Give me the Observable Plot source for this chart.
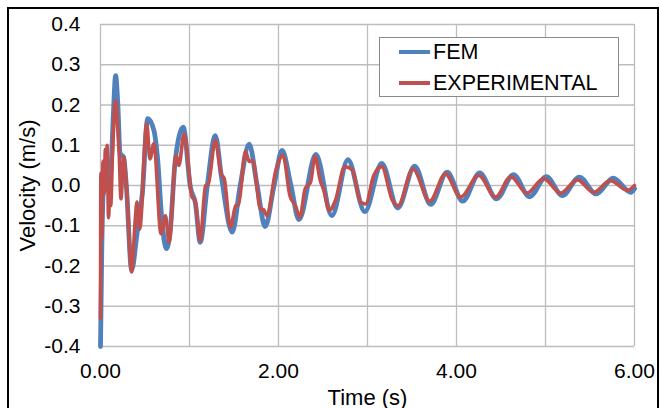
<!DOCTYPE html>
<html>
<head>
<meta charset="utf-8">
<script src="https://cdn.jsdelivr.net/npm/d3@7"></script>
<script src="https://cdn.jsdelivr.net/npm/@observablehq/plot@0.6"></script>
<style>
  html, body { margin:0; padding:0; background:#fff; overflow:hidden; }
  #wrap { position:relative; width:660px; height:408px; font-family:"Liberation Sans", Arial, sans-serif; }
  #frame { position:absolute; left:7px; top:7px; width:648px; height:420px; border:2px solid #000; box-sizing:content-box; pointer-events:none; }
  #legend { position:absolute; left:379px; top:37px; width:238px; height:58px; border:1px solid #8a8a8a; background:#fff; }
  .item { position:absolute; left:19px; height:24px; display:flex; align-items:center; font-size:21.5px; color:#000; }
  .sw { width:31px; height:4px; margin-right:3px; }
</style>
</head>
<body>
<div id="wrap">
  <div id="chart"></div>
  <div id="frame"></div>
  <div id="legend">
    <div class="item" style="top:2px"><span class="sw" style="background:#4F81BD"></span>FEM</div>
    <div class="item" style="top:33px"><span class="sw" style="background:#C0504D"></span>EXPERIMENTAL</div>
  </div>
</div>
<script>
// FEM series (time s, velocity m/s)
const femT = [0.000,0.015,0.030,0.060,0.090,0.120,0.145,0.170,0.195,0.220,0.260,0.290,0.350,0.410,0.470,0.530,0.600,0.640,0.690,0.740,0.780,0.840,0.930,1.010,1.067,1.120,1.200,1.290,1.360,1.480,1.570,1.670,1.760,1.850,1.950,2.040,2.140,2.230,2.420,2.600,2.780,2.970,3.160,3.340,3.530,3.710,3.895,4.070,4.260,4.450,4.640,4.820,5.010,5.190,5.380,5.570,5.760,5.960,6.000];
const femV = [-0.400,-0.150,-0.020,0.030,0.000,0.050,0.180,0.273,0.200,0.080,0.070,0.000,-0.210,-0.120,-0.020,0.166,0.137,0.070,-0.087,-0.157,-0.120,0.062,0.145,-0.004,-0.045,-0.141,0.000,0.124,0.020,-0.116,0.000,0.103,0.000,-0.102,0.000,0.087,0.000,-0.085,0.077,-0.075,0.064,-0.065,0.055,-0.056,0.048,-0.047,0.033,-0.039,0.031,-0.033,0.027,-0.028,0.022,-0.025,0.021,-0.021,0.018,-0.017,-0.008];
// EXPERIMENTAL series
const expT = [0.000,0.004,0.015,0.028,0.040,0.055,0.065,0.075,0.090,0.105,0.115,0.135,0.170,0.195,0.210,0.230,0.260,0.290,0.350,0.390,0.410,0.440,0.520,0.555,0.600,0.680,0.730,0.770,0.850,0.880,0.940,1.030,1.060,1.120,1.180,1.210,1.290,1.356,1.390,1.460,1.520,1.550,1.630,1.670,1.710,1.800,1.830,1.870,1.970,2.050,2.130,2.190,2.240,2.300,2.360,2.410,2.470,2.510,2.570,2.640,2.745,2.830,2.920,2.980,3.070,3.160,3.280,3.345,3.510,3.700,3.876,4.045,4.250,4.440,4.610,4.790,4.980,5.170,5.360,5.540,5.730,5.920,6.000];
const expV = [-0.330,0.030,-0.130,0.060,-0.020,0.090,-0.010,0.100,-0.080,-0.020,-0.050,0.080,0.211,0.140,0.079,-0.033,0.070,0.005,-0.215,-0.087,-0.041,-0.108,0.153,0.066,0.104,-0.120,-0.075,-0.141,0.075,0.050,0.128,-0.029,-0.035,-0.137,0.000,0.003,0.112,0.029,0.017,-0.104,-0.050,-0.048,0.085,0.060,0.062,-0.060,-0.060,-0.075,0.037,0.075,-0.027,-0.050,-0.079,-0.008,0.008,0.072,0.012,-0.012,-0.062,-0.037,0.047,0.039,-0.041,-0.046,0.025,0.047,-0.037,-0.050,0.041,-0.039,0.029,-0.029,0.025,-0.029,0.022,-0.019,0.017,-0.019,0.014,-0.017,0.012,-0.012,0.000];

const yTicks = [-0.4,-0.3,-0.2,-0.1,0,0.1,0.2,0.3,0.4];
const yTickLabels = ["-0.4","-0.3","-0.2","-0.1","0.0","0.1","0.2","0.3","0.4"];
const xGrid = [0,1,2,3,4,5,6];
const xTicks = [0,2,4,6];
const xTickLabels = ["0.00","2.00","4.00","6.00"];

const fem = femT.map((t,i)=>({t, v: femV[i]}));
const exp = expT.map((t,i)=>({t, v: expV[i]}));

const chart = Plot.plot({
  width: 660, height: 408,
  marginLeft: 100, marginRight: 26, marginTop: 24, marginBottom: 62,
  x: {domain: [0, 6]},
  y: {domain: [-0.4, 0.4]},
  style: {fontFamily: "'Liberation Sans', Arial, sans-serif", fontSize: "21px", background: "transparent", color: "#000"},
  marks: [
    Plot.ruleY(yTicks, {stroke: "#bdbdbd", strokeWidth: 1.3, strokeOpacity: 1}),
    Plot.ruleX(xGrid, {stroke: "#bdbdbd", strokeWidth: 1.3, strokeOpacity: 1}),
    Plot.line(fem, {x: "t", y: "v", stroke: "#4F81BD", strokeWidth: 4.8, curve: "monotone-x"}),
    Plot.line(exp, {x: "t", y: "v", stroke: "#C0504D", strokeWidth: 3.6, curve: "monotone-x"}),
    Plot.axisY(yTicks, {tickSize: 0, tickPadding: 20, tickFormat: d => yTickLabels[yTicks.indexOf(d)], label: null, fontSize: 21}),
    Plot.axisY([], {label: "Velocity (m/s)", labelAnchor: "center", labelOffset: 81, labelArrow: "none", fontSize: 22}),
    Plot.axisX(xTicks, {tickSize: 0, tickPadding: 17, tickFormat: d => xTickLabels[xTicks.indexOf(d)], label: null, fontSize: 21}),
    Plot.axisX([], {label: "Time (s)", labelAnchor: "center", labelOffset: 58, labelArrow: "none", fontSize: 22})
  ]
});
document.getElementById("chart").appendChild(chart);
</script>
</body>
</html>
